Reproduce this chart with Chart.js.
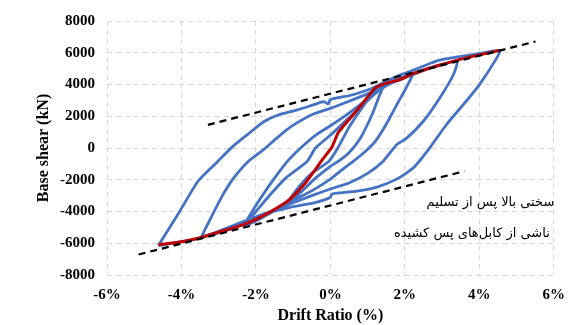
<!DOCTYPE html>
<html>
<head>
<meta charset="utf-8">
<script src="https://cdn.jsdelivr.net/npm/chart.js@4"></script>
<style>
  html, body { margin: 0; padding: 0; background: #fff; }
  #wrap { width: 576px; height: 325px; }
</style>
</head>
<body>
<div id="wrap"><canvas id="myChart"></canvas></div>
<script>
// drift ratio (%) / base shear (kN) pairs
const loopA = [
  [-4.62,-6140],[-4.09,-4160],[-3.55,-2080],[-3.02,-830],[-2.62,100],[-2.22,860],[-1.78,1670],
  [-1.4,2080],[-0.89,2400],[-0.44,2730],[-0.18,2920],[-0.06,2780],[0,3050],[0.58,3340],
  [1.11,3750],[1.38,4060],[1.86,4590],[2.22,4900],[2.66,5310],[2.93,5540],[3.38,5730],
  [3.99,5940],[4.55,6150],
  [4.45,5600],[4.0,3980],[3.57,2730],[3.12,1480],[2.66,-20],[2.23,-1250],[1.78,-1960],
  [1.25,-2460],[0.71,-2710],[0.22,-2830],[0.05,-2890],[-0.01,-3120],[-0.41,-3440],
  [-1.11,-3750],[-1.78,-4150],[-2.41,-4700],[-3.0,-5250],[-3.55,-5700],[-4.1,-5950],[-4.62,-6140]
]
const loopB = [
  [-3.47,-5630],[-3.2,-4350],[-2.9,-3000],[-2.6,-1900],[-2.2,-830],[-1.74,0],[-1.55,400],
  [-1.2,1100],[-0.9,1580],[-0.5,2100],[0,2500],[0.45,2900],[1.15,3550],[1.6,4050],
  [2.3,4700],[2.9,5200],[3.4,5450],
  [3.3,4600],[2.93,3125],[2.49,1670],[2.05,625],[1.78,210],[1.42,-830],[1.0,-1600],
  [0.5,-2200],[0,-2580],[-0.5,-3000],[-1.0,-3450],[-1.5,-3900],[-2.0,-4400],[-2.5,-4950],
  [-3.0,-5350],[-3.47,-5630]
]
const loopC1 = [
  [-2.35,-4970],[-2.1,-4000],[-1.8,-2900],[-1.5,-1900],[-1.15,-830],[-0.8,0],[-0.4,800],
  [0,1400],[0.5,2200],[0.9,2900],[1.3,3600],[1.7,4200],[2.2,4650],
  [2.05,3850],[1.8,2800],[1.5,1500],[1.2,400],[0.9,-300],[0.62,-830],[0.3,-1400],
  [0,-1960],[-0.5,-2700],[-1.0,-3300],[-1.5,-3950],[-2.0,-4600],[-2.35,-4970]
]
const loopC2 = [
  [-2.35,-4970],[-2.0,-4000],[-1.6,-2900],[-1.2,-1900],[-0.62,-830],[-0.4,0],[0,800],
  [0.5,1900],[1.0,3000],[1.4,3800],[1.8,4300],[2.2,4650]
]
const loopE = [
  [-1.3,-3900],[-0.9,-2600],[-0.5,-1600],[-0.04,-830],[0.2,0],[0.5,1300],[0.9,2700],
  [1.2,3600],[1.45,4100],
  [1.3,3200],[1.1,2000],[0.8,600],[0.5,-300],[0.22,-830],[0,-1150],[-0.4,-1900],
  [-0.8,-2800],[-1.3,-3900]
]
const backbone = [
  [-4.62,-6100],[-4.0,-5900],[-3.5,-5650],[-3.0,-5300],[-2.5,-4950],[-2.1,-4600],
  [-1.75,-4200],[-1.45,-3800],[-1.1,-3250],[-0.67,-2200],[-0.22,-750],[0.05,100],
  [0.22,1000],[0.76,2500],[1.19,3750],[1.46,4060],[1.86,4300],[2.22,4690],[2.93,5210],
  [3.56,5630],[4.55,6150]
]
const upperFit = [[-3.29,1460],[5.51,6710]]
const lowerFit = [[-5.15,-6710],[3.6,-1460]]

const noteLines = ['سختی بالا پس از تسلیم', 'ناشی از کابل\u200cهای پس کشیده']
const notePos = [[4.3,-3460],[3.8,-5390]]

const toXY = arr => arr.map(([x, y]) => ({ x, y }))
const serif = '"Liberation Serif", "Times New Roman", serif'

const noteLabel = {
  id: 'noteLabel',
  afterDatasetsDraw(chart) {
    const { ctx, scales: { x, y } } = chart
    ctx.save()
    ctx.font = '13px "DejaVu Sans"'
    ctx.fillStyle = '#000'
    ctx.textAlign = 'center'
    ctx.textBaseline = 'middle'
    noteLines.forEach((t, i) => {
      ctx.fillText(t, x.getPixelForValue(notePos[i][0]), y.getPixelForValue(notePos[i][1]))
    })
    ctx.restore()
  }
}

const dashed = pts => ({
  data: toXY(pts), borderColor: '#000', borderWidth: 2.2, borderDash: [7, 5],
  showLine: true, pointRadius: 0, order: 0
})

new Chart(document.getElementById('myChart'), {
  type: 'scatter',
  data: {
    datasets: [
      dashed(upperFit),
      dashed(lowerFit),
      { data: toXY(backbone), borderColor: '#C00000', borderWidth: 3, showLine: true,
        pointRadius: 0, tension: 0.2, order: 1 },
      ...[loopA, loopB, loopC1, loopC2, loopE].map(l => ({
        data: toXY(l), borderColor: '#4472C4', borderWidth: 2.8, showLine: true,
        pointRadius: 0, tension: 0.2, order: 2
      }))
    ]
  },
  options: {
    animation: false,
    responsive: true,
    maintainAspectRatio: false,
    devicePixelRatio: 1,
    layout: { padding: { left: 30, top: 19, right: 18, bottom: 0 } },
    plugins: { legend: { display: false }, tooltip: { enabled: false } },
    scales: {
      x: {
        type: 'linear', min: -6, max: 6,
        afterFit(scale) { scale.height = 50 },
        ticks: { stepSize: 2, color: '#000', padding: 11,
          font: { family: serif, size: 15, weight: 'bold' },
          callback: v => v + '%' },
        grid: { color: '#d9d9d9', drawTicks: false },
        border: { display: false, dash: [5, 4] },
        title: { display: true, text: 'Drift Ratio (%)', color: '#000',
          padding: { top: 0, bottom: 0 },
          font: { family: serif, size: 16, weight: 'bold' } }
      },
      y: {
        type: 'linear', min: -8000, max: 8000,
        afterFit(scale) { scale.width = 77 },
        ticks: { stepSize: 2000, color: '#000', padding: 12,
          font: { family: serif, size: 15, weight: 'bold' },
          callback: v => String(v) },
        grid: { color: '#d9d9d9', drawTicks: false },
        border: { display: false, dash: [5, 4] },
        title: { display: true, text: 'Base shear (kN)', color: '#000',
          font: { family: serif, size: 16, weight: 'bold' } }
      }
    }
  },
  plugins: [noteLabel]
})
</script>
</body>
</html>
